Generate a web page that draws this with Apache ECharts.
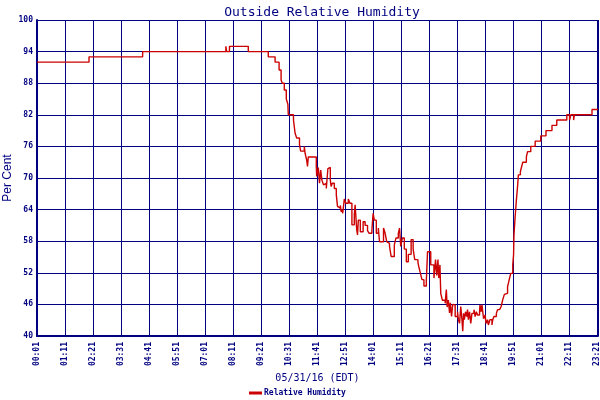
<!DOCTYPE html>
<html>
<head>
<meta charset="utf-8">
<script src="https://cdn.jsdelivr.net/npm/echarts@6/dist/echarts.min.js"></script>
<style>html,body{margin:0;padding:0;background:#fff}#c{width:600px;height:400px}</style>
</head>
<body>
<div id="c"></div>
<script>
// minutes after 00:01 on 05/31/16
var minutes = [0,130,264,472,474,481,528,578,595,605,610,613,618,623,627,628,641,645,649,656,659,668,670,674,676,678,698,699,703,706,709,712,716,720,723,727,730,733,735,738,743,748,751,753,758,760,762,764,768,772,778,782,787,793,795,799,801,803,808,815,820,826,830,837,840,843,848,853,856,866,870,874,878,881,885,893,897,903,906,909,913,918,923,928,935,940,944,952,954,958,962,967,973,976,984,992,996,999,1002,1004,1007,1009,1013,1020,1023,1025,1028,1031,1033,1036,1039,1042,1045,1051,1053,1056,1059,1062,1064,1066,1068,1071,1074,1076,1078,1081,1084,1087,1092,1095,1098,1101,1106,1107,1110,1112,1116,1120,1122,1126,1128,1132,1137,1139,1142,1148,1151,1156,1160,1164,1168,1172,1176,1178,1181,1184,1189,1191,1192,1195,1198,1201,1203,1208,1210,1214,1223,1226,1234,1245,1259,1272,1287,1299,1324,1331,1334,1341,1343,1387,1402];
var humidity = [92,93,94,95,94,95,94,93,92,90.5,88.6,88,86.7,85,84,82,81,78.5,77.6,76.3,75.1,76,74.7,73.4,72.2,74,72.2,70.3,72,69,71.5,69.6,68.7,69,68,71.8,72,69.6,68.4,69,68,66.8,64.6,64.3,64.8,63.6,64,63.3,66,65.2,66,65.2,61.1,63,64.9,60.2,59.2,62,59.8,61.7,61,60,59.5,60.2,63.3,62,59.5,60.5,57.9,60.5,59.5,57.9,57.6,57,55.1,57.3,58.6,59.5,60.5,57,58.6,56.5,54.1,55.5,58.3,56.5,54.5,54,53.2,52,50.7,49.5,50.5,56,53.5,51,54.5,51.5,54.5,51,53.5,48.1,46.8,46.2,48.8,45.5,46.8,44.4,46.3,43.7,46,45.9,43.7,44.6,43.1,42.4,45.6,43.1,40.9,44.3,43.1,44.6,43.7,45,43.1,44.6,42.4,44.3,45,43.7,44.6,44,44.6,45.9,44.6,45.9,43.3,44,42.4,43.1,42.1,43.1,42.1,43.1,43.7,44.3,45,45.3,45.6,46.9,47.9,48.1,49.4,50,51,51.9,53.5,55.4,59.2,62.7,65.8,68.4,70.6,71.2,71.8,73,74,75,76,77,78,79,80,81,82,81,82,81,82,83,83];
var yTicks = {min: 40, max: 100, step: 6};
var xTicks = {min: 0, max: 1402, step: 70};

var points = minutes.map(function (m, i) { return [m, humidity[i]]; });
var xLabelValues = [];
for (var v = xTicks.min; v <= xTicks.max; v += xTicks.step) xLabelValues.push(v);
xLabelValues.push(xTicks.max);
function fmtTime(v) {
  var t = Math.round(v) + 1;
  var h = Math.floor(t / 60), m = t % 60;
  return (h < 10 ? '0' : '') + h + ':' + (m < 10 ? '0' : '') + m;
}
var navy = '#000080';
var chart = echarts.init(document.getElementById('c'), null, {renderer: 'canvas'});
chart.setOption({
  animation: false,
  backgroundColor: '#ffffff',
  title: {
    text: 'Outside Relative Humidity',
    left: 317, top: 1, textAlign: 'center',
    textStyle: {color: navy, fontFamily: 'DejaVu Sans Mono', fontSize: 13, fontWeight: 'normal'}
  },
  legend: {
    top: 389, left: 249, padding: 0,
    itemWidth: 13, itemHeight: 3, itemGap: 4,
    icon: 'rect',
    textStyle: {color: navy, fontFamily: 'DejaVu Sans Mono', fontSize: 8, fontWeight: 'bold', padding: [0, 0, 0, -3]},
    data: ['Relative Humidity']
  },
  grid: {left: 37, right: 2, top: 20, bottom: 64, containLabel: false, outerBoundsMode: 'none'},
  xAxis: {
    type: 'value',
    min: xTicks.min, max: xTicks.max, interval: xTicks.step,
    name: '05/31/16 (EDT)', nameLocation: 'middle', nameGap: 37, nameMoveOverlap: false,
    nameTextStyle: {color: navy, fontFamily: 'DejaVu Sans Mono', fontSize: 10},
    axisLine: {show: true, lineStyle: {color: navy, width: 2}},
    axisTick: {show: false},
    axisLabel: {
      rotate: 90, margin: 6, color: navy,
      fontFamily: 'DejaVu Sans Mono', fontSize: 8, fontWeight: 'bold',
      formatter: fmtTime, hideOverlap: false,
      customValues: xLabelValues
    },
    splitLine: {show: true, lineStyle: {color: navy, width: 1}}
  },
  yAxis: {
    type: 'value',
    min: yTicks.min, max: yTicks.max, interval: yTicks.step,
    name: 'Per Cent', nameLocation: 'middle', nameGap: 23, nameMoveOverlap: false,
    nameTextStyle: {color: navy, fontFamily: 'Liberation Sans', fontSize: 12},
    axisLine: {show: true, lineStyle: {color: navy, width: 2}},
    axisTick: {show: false},
    axisLabel: {margin: 4, color: navy, fontFamily: 'DejaVu Sans Mono', fontSize: 8, fontWeight: 'bold'},
    splitLine: {show: true, lineStyle: {color: navy, width: 1}}
  },
  series: [{
    name: 'Relative Humidity',
    type: 'line',
    step: 'end',
    data: points,
    showSymbol: false,
    symbol: 'none',
    itemStyle: {color: '#cc0000'},
    lineStyle: {color: '#cc0000', width: 1.4}
  }]
});
</script>
</body>
</html>
